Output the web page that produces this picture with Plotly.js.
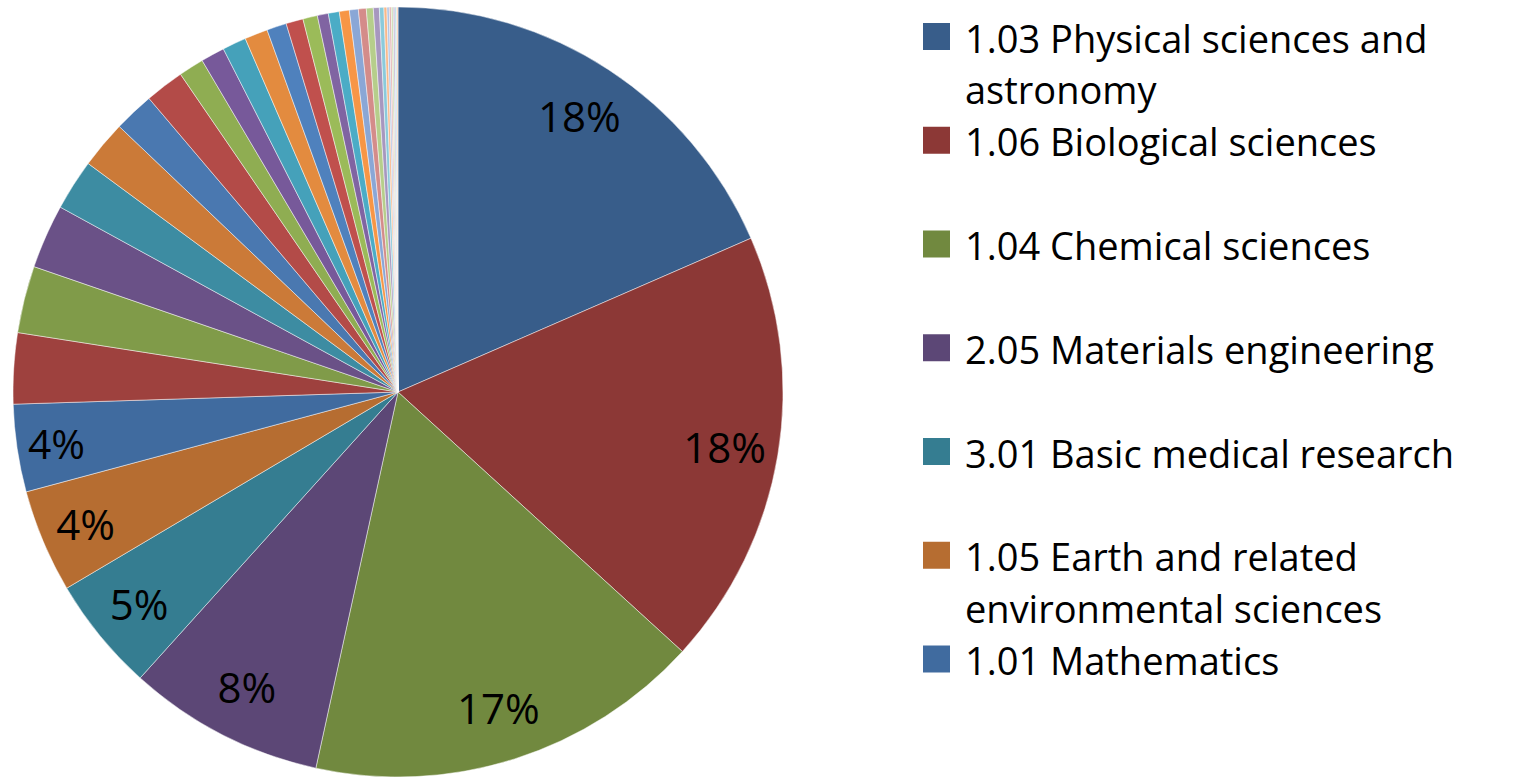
<!DOCTYPE html>
<html>
<head>
<meta charset="utf-8">
<script src="https://cdn.plot.ly/plotly-3.0.1.min.js"></script>
<style>
  html, body { margin: 0; padding: 0; background: #ffffff; overflow: hidden; }
  #chart { width: 1515px; height: 777px; }
</style>
</head>
<body>
<div id="chart"></div>
<script>
// ---- data ----
// Named fields shown in the legend (first seven slices)
const namedFields = [
  "1.03 Physical sciences and astronomy",
  "1.06 Biological sciences",
  "1.04 Chemical sciences",
  "2.05 Materials engineering",
  "3.01 Basic medical research",
  "1.05 Earth and related environmental sciences",
  "1.01 Mathematics"
];
// Share of each slice (percent), in drawing order, clockwise from 12 o'clock
const shares = [18.45, 18.30, 16.64, 8.25, 4.81, 4.33, 3.67, 2.97, 2.81, 2.69,
                2.14, 2.00, 1.69, 1.64, 1.06, 1.00, 1.00, 0.97, 0.83, 0.72,
                0.61, 0.46, 0.46, 0.42, 0.375, 0.33, 0.29, 0.25, 0.19, 0.125,
                0.097, 0.083, 0.078, 0.075, 0.069, 0.056];
// Slices beyond the seventh are not named in the reference legend
const unnamedFields = shares.slice(namedFields.length).map((_, i) => "Field " + (i + namedFields.length + 1));
const categories = namedFields.concat(unnamedFields);
// Number of slices that carry a percentage label
const labelledCount = 7;

// ---- styling ----
const sliceColors = [
  '#385D8A','#8C3836','#71893F','#5C4776','#357D91','#B66D31',
  '#406B9F','#9E413E','#809B49','#6A5187','#3D8CA2','#CB7A38',
  '#4A78B0','#B34B48','#8FAD52','#77599A','#45A1BA','#E38B3F',
  '#4F81BD','#C0504D','#9BBB59','#8064A2','#4BACC6','#F79646',
  '#8AA7D6','#D48C8A','#B6CE8B','#A797BF','#8BCADB','#F9B88A',
  '#B1C4E4','#E3B2B1','#CDDDB1','#C4B9D5','#B2DBE7','#FBCDAE'
];
const FONT = 'Open Sans, Lato, sans-serif';
const W = 1515, H = 777;
const pieDomain = { x: [13 / W, 783 / W], y: [0, 770 / H] };

const pieTrace = {
  type: 'pie',
  labels: categories,
  values: shares,
  sort: false,
  direction: 'clockwise',
  rotation: 0,
  domain: pieDomain,
  marker: { colors: sliceColors, line: { color: 'rgba(255,255,255,0.8)', width: 0.6 } },
  textinfo: 'none',
  hoverinfo: 'label+percent',
  showlegend: false
};

// Label layer: same data, used only to position the percentage labels near the rim
const labelTrace = {
  type: 'pie',
  labels: categories,
  values: shares,
  sort: false,
  direction: 'clockwise',
  rotation: 0,
  hole: 0.72,
  domain: pieDomain,
  marker: { colors: shares.map(() => 'rgba(0,0,0,0)'), line: { width: 0 } },
  textposition: 'inside',
  insidetextorientation: 'horizontal',
  texttemplate: shares.map((_, i) => i < labelledCount ? '%{percent:.0%}' : ''),
  textfont: { family: FONT, size: 42, color: '#000000' },
  insidetextfont: { family: FONT, size: 42, color: '#000000' },
  hoverinfo: 'skip',
  showlegend: false
};

// ---- legend (drawn as annotations + swatches) ----
function wrap(text, maxChars) {
  const words = text.split(' ');
  const lines = [];
  let cur = '';
  words.forEach(w => {
    const t = cur ? cur + ' ' + w : w;
    if (t.length > maxChars && cur) { lines.push(cur); cur = w; } else { cur = t; }
  });
  if (cur) lines.push(cur);
  return lines;
}
const annotations = [];
const shapes = [];
const legendTop = 36.5, legendStep = 103.75, lineStep = 51.5, sw = 27;
namedFields.forEach((name, i) => {
  const cy = legendTop + i * legendStep;
  shapes.push({
    type: 'rect', xref: 'paper', yref: 'paper',
    x0: 923 / W, x1: (923 + sw) / W,
    y0: 1 - (cy + sw / 2) / H, y1: 1 - (cy - sw / 2) / H,
    fillcolor: sliceColors[i], line: { width: 0 }
  });
  wrap(name, 27).forEach((line, k) => {
    annotations.push({
      xref: 'paper', yref: 'paper',
      x: 963 / W, y: 1 - (cy + 1 + k * lineStep) / H,
      xanchor: 'left', yanchor: 'middle',
      text: line, showarrow: false,
      font: { family: FONT, size: 38, color: '#000000' }
    });
  });
});

const layout = {
  width: W, height: H,
  margin: { l: 0, r: 0, t: 0, b: 0 },
  paper_bgcolor: '#ffffff',
  showlegend: false,
  annotations: annotations,
  shapes: shapes
};

Plotly.newPlot('chart', [pieTrace, labelTrace], layout, { displayModeBar: false, staticPlot: true });
</script>
</body>
</html>
